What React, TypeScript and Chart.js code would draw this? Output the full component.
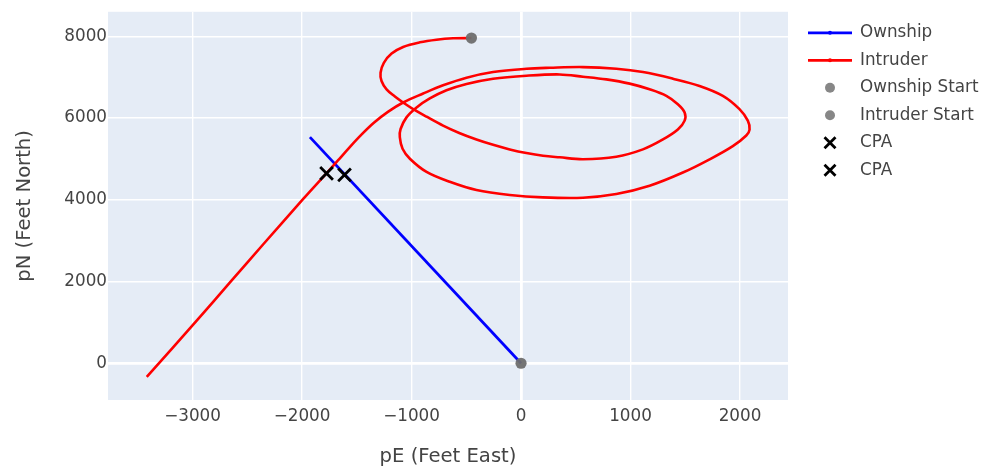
import React, { useEffect, useRef } from "react";
import { Chart, registerables } from "chart.js";

Chart.register(...registerables);

// ---- data (feet) ----
const ownshipE = [0, -1928];
const ownshipN = [0, 5535];

const intruderE = [
  -453, -620, -772, -924, -1077, -1182, -1253, -1283, -1274, -1228, -1152, -1077, -985, -863, -712, -559, -407, -255, -103, 49, 201, 353,
  566, 870, 1113, 1296, 1432, 1494, 1494, 1432, 1327, 1174, 992, 779, 566, 353,
  49, -255, -498, -681, -833, -954, -1046, -1100, -1107, -1082, -1015, -863, -651, -407, -103, 201,
  566, 870, 1174, 1478, 1722, 1934, 2057, 2087, 2071, 1995, 1843, 1630, 1387, 1113, 870, 566, 262,
  49, -255, -498, -712, -894, -1077, -1216, -1344, -1462, -1572, -1672, -1773, -1989, -2354, -2658, -2962, -3418,
];
const intruderN = [
  7961, 7954, 7920, 7856, 7743, 7580, 7354, 7112, 6910, 6706, 6529, 6383, 6221, 6036, 5818, 5631, 5478, 5347, 5235, 5146, 5080, 5041,
  4993, 5056, 5235, 5478, 5721, 5939, 6141, 6342, 6546, 6706, 6845, 6949, 7015, 7070,
  7039, 6966, 6837, 6682, 6481, 6262, 6019, 5735, 5534, 5250, 5007, 4684, 4442, 4240, 4119, 4061,
  4053, 4142, 4345, 4668, 4992, 5316, 5575, 5721, 5939, 6221, 6546, 6789, 6966, 7128, 7209, 7250, 7233,
  7209, 7128, 6990, 6803, 6602, 6383, 6153, 5886, 5583, 5267, 4964, 4660, 4022, 2913, 1978, 1044, -333,
];

const ownshipStartE = [0];
const ownshipStartN = [0];
const intruderStartE = [-453];
const intruderStartN = [7961];
const cpaIntruderE = [-1776];
const cpaIntruderN = [4650];
const cpaOwnshipE = [-1612];
const cpaOwnshipN = [4610];

const xTicks = [-3000, -2000, -1000, 0, 1000, 2000];
const yTicks = [0, 2000, 4000, 6000, 8000];
const xRange = [-3772, 2438];
const yRange = [-899, 8603];

const TEXT = "#444444";
const FONT = "'DejaVu Sans', Verdana, sans-serif";

const fmt = (v: number) => (v < 0 ? "\u2212" + Math.abs(v) : String(v));
const pts = (e: number[], n: number[]) => e.map((x, i) => ({ x, y: n[i] }));

const plotBg = {
  id: "plotBg",
  beforeDraw(chart: any) {
    const { ctx, chartArea } = chart;
    ctx.save();
    ctx.fillStyle = "#E5ECF6";
    ctx.fillRect(chartArea.left, chartArea.top, chartArea.width, chartArea.height);
    ctx.restore();
  },
};

const plotlyLegend = {
  id: "plotlyLegend",
  afterDraw(chart: any) {
    const { ctx, chartArea } = chart;
    const x0 = chartArea.right + 20;
    const cx = x0 + 22;
    ctx.save();
    ctx.font = `16.8px ${FONT}`;
    ctx.textBaseline = "middle";
    ctx.textAlign = "left";
    chart.data.datasets.forEach((ds: any, i: number) => {
      const y = chartArea.top + 21 + i * 27.5;
      const kind = ds.legendKind;
      if (kind === "line") {
        ctx.strokeStyle = ds.borderColor;
        ctx.lineWidth = 2.8;
        ctx.beginPath();
        ctx.moveTo(x0, y);
        ctx.lineTo(x0 + 44, y);
        ctx.stroke();
        ctx.fillStyle = ds.borderColor;
        ctx.beginPath();
        ctx.arc(cx, y, 2, 0, Math.PI * 2);
        ctx.fill();
      } else if (kind === "dot") {
        ctx.fillStyle = "rgb(135,135,135)";
        ctx.beginPath();
        ctx.arc(cx, y, 5, 0, Math.PI * 2);
        ctx.fill();
      } else {
        ctx.strokeStyle = "#000";
        ctx.lineWidth = 2.8;
        const h = 5.5;
        ctx.beginPath();
        ctx.moveTo(cx - h, y - h);
        ctx.lineTo(cx + h, y + h);
        ctx.moveTo(cx - h, y + h);
        ctx.lineTo(cx + h, y - h);
        ctx.stroke();
      }
      ctx.fillStyle = TEXT;
      ctx.fillText(ds.label, x0 + 52, y);
    });
    ctx.restore();
  },
};

export default function App() {
  const ref = useRef<HTMLCanvasElement | null>(null);

  useEffect(() => {
    if (!ref.current) return;
    const gridWidth = (c: any) => (c.tick && c.tick.value === 0 ? 2.8 : 1.4);
    const chart = new Chart(ref.current, {
      type: "scatter",
      data: {
        datasets: [
          {
            label: "Ownship",
            legendKind: "line",
            data: pts(ownshipE, ownshipN),
            showLine: true,
            borderColor: "rgb(0,0,255)",
            backgroundColor: "rgb(0,0,255)",
            borderWidth: 2.8,
            pointRadius: 0,
            order: 3,
          } as any,
          {
            label: "Intruder",
            legendKind: "line",
            data: pts(intruderE, intruderN),
            showLine: true,
            borderColor: "rgb(255,0,0)",
            backgroundColor: "rgb(255,0,0)",
            borderWidth: 2.6,
            pointRadius: 0,
            tension: 0.35,
            order: 2,
          } as any,
          {
            label: "Ownship Start",
            legendKind: "dot",
            data: pts(ownshipStartE, ownshipStartN),
            pointRadius: 5.6,
            backgroundColor: "rgba(110,110,110,0.95)",
            borderWidth: 0,
            order: 1,
          } as any,
          {
            label: "Intruder Start",
            legendKind: "dot",
            data: pts(intruderStartE, intruderStartN),
            pointRadius: 5.6,
            backgroundColor: "rgba(110,110,110,0.95)",
            borderWidth: 0,
            order: 1,
          } as any,
          {
            label: "CPA",
            legendKind: "x",
            data: pts(cpaIntruderE, cpaIntruderN),
            pointStyle: "crossRot",
            pointRadius: 9,
            borderColor: "#000",
            borderWidth: 2.8,
            order: 0,
          } as any,
          {
            label: "CPA",
            legendKind: "x",
            data: pts(cpaOwnshipE, cpaOwnshipN),
            pointStyle: "crossRot",
            pointRadius: 9,
            borderColor: "#000",
            borderWidth: 2.8,
            order: 0,
          } as any,
        ],
      },
      options: {
        animation: false,
        responsive: false,
        devicePixelRatio: 1,
        layout: { padding: { top: 9, right: 197, bottom: 0, left: 0 } },
        plugins: { legend: { display: false }, tooltip: { enabled: false } },
        font: { family: FONT },
        scales: {
          x: {
            type: "linear",
            min: xRange[0],
            max: xRange[1],
            afterBuildTicks: (s: any) => {
              s.ticks = xTicks.map((v) => ({ value: v }));
            },
            afterFit: (s: any) => {
              s.height = 69;
            },
            ticks: {
              callback: (v: any) => fmt(Number(v)),
              color: TEXT,
              font: { family: FONT, size: 16.8 },
              padding: 7,
              maxRotation: 0,
              autoSkip: false,
            },
            grid: { color: "#ffffff", lineWidth: gridWidth, drawTicks: false },
            border: { display: false },
            title: {
              display: true,
              text: "pE (Feet East)",
              color: TEXT,
              font: { family: FONT, size: 19.6 },
              padding: { top: 0, bottom: 0 },
            },
          },
          y: {
            type: "linear",
            min: yRange[0],
            max: yRange[1],
            afterBuildTicks: (s: any) => {
              s.ticks = yTicks.map((v) => ({ value: v }));
            },
            afterFit: (s: any) => {
              s.width = 108;
            },
            ticks: {
              callback: (v: any) => fmt(Number(v)),
              color: TEXT,
              font: { family: FONT, size: 16.8 },
              padding: 1,
              autoSkip: false,
            },
            grid: { color: "#ffffff", lineWidth: gridWidth, drawTicks: false },
            border: { display: false },
            title: {
              display: true,
              text: "pN (Feet North)",
              color: TEXT,
              font: { family: FONT, size: 19.6 },
              padding: { top: 13, bottom: 0 },
            },
          },
        },
      } as any,
      plugins: [plotBg, plotlyLegend],
    });
    return () => chart.destroy();
  }, []);

  return (
    <div style={{ position: "fixed", left: 0, top: 0, width: 985, height: 469, background: "#fff" }}>
      <canvas ref={ref} width={985} height={469} style={{ width: 985, height: 469 }} />
    </div>
  );
}
